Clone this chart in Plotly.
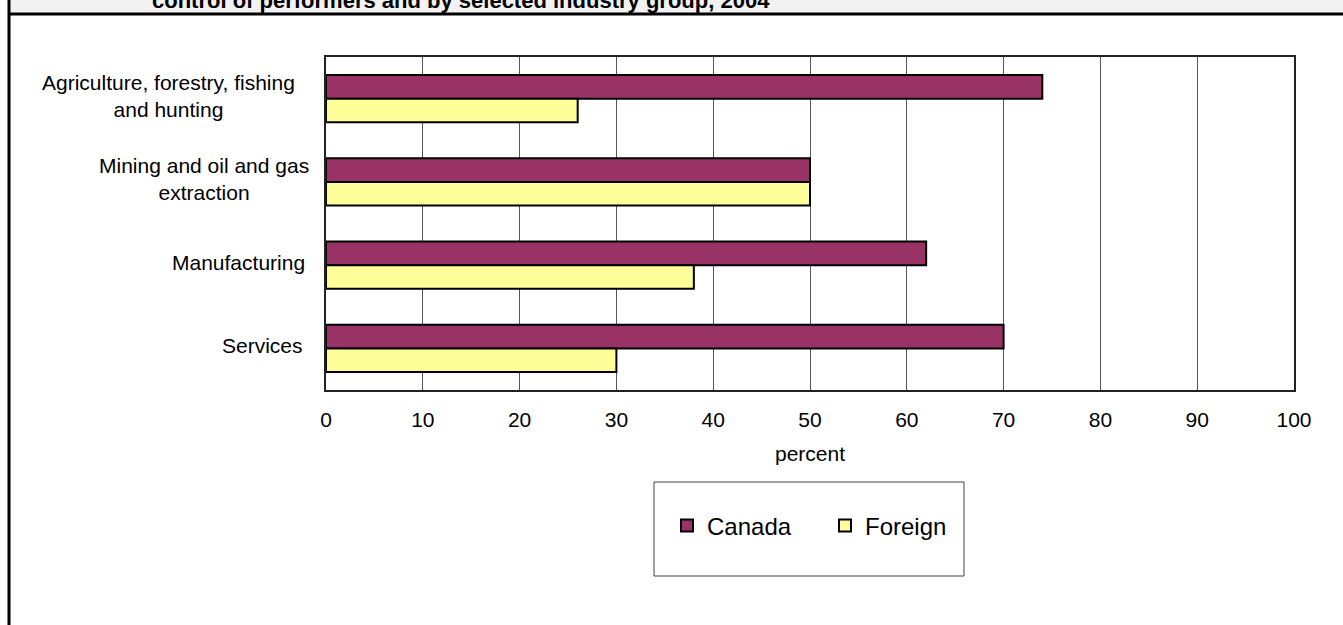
import plotly.graph_objects as go

# Share of R&D performed, by country of control and industry group
industries = [
    "Agriculture, forestry, fishing<br>and hunting",
    "Mining and oil and gas<br>extraction",
    "Manufacturing",
    "Services",
]
canada = [74, 50, 62, 70]
foreign = [26, 50, 38, 30]
x_ticks = [0, 10, 20, 30, 40, 50, 60, 70, 80, 90, 100]

W, H = 1343, 625
ML, MR, MT, MB = 326, 49, 57, 235
PW, PH = W - ML - MR, H - MT - MB


def px_x(px):
    return (px - ML) / PW


def px_y(py):
    return (H - MB - py) / PH


FONT = "Liberation Sans, Arial, sans-serif"

fig = go.Figure()
fig.add_trace(go.Bar(
    y=industries, x=canada, name="Canada", orientation="h",
    marker=dict(color="#993366", line=dict(color="#000000", width=2)),
))
fig.add_trace(go.Bar(
    y=industries, x=foreign, name="Foreign", orientation="h",
    marker=dict(color="#FFFF99", line=dict(color="#000000", width=2)),
))

# category labels: lines centred within each right-aligned block
label_right = [297, 311, 307, 305]
annotations = []
for name, right in zip(industries, label_right):
    annotations.append(dict(
        xref="paper", yref="y", x=px_x(right), y=name,
        xanchor="right", yanchor="middle", align="center", yshift=3,
        text=name, showarrow=False,
        font=dict(family=FONT, size=21, color="#000000"),
    ))

# title line running off the top edge of the page
annotations.append(dict(
    xref="paper", yref="paper", x=px_x(150), y=px_y(-14),
    xanchor="left", yanchor="top", align="left",
    text="<b>control of performers and by selected industry group, 2004</b>",
    showarrow=False,
    font=dict(family=FONT, size=22, color="#000000"),
))

shapes = [
    # grey header band and its rule
    dict(type="rect", xref="paper", yref="paper",
         x0=px_x(9), x1=px_x(W + 5), y0=px_y(13), y1=px_y(-5),
         fillcolor="#f2f2f2", line=dict(width=0), layer="below"),
    dict(type="line", xref="paper", yref="paper",
         x0=px_x(9), x1=px_x(W + 5), y0=px_y(14), y1=px_y(14),
         line=dict(color="#000000", width=3)),
    # left frame rule
    dict(type="line", xref="paper", yref="paper",
         x0=px_x(9), x1=px_x(9), y0=px_y(-5), y1=px_y(H + 5),
         line=dict(color="#000000", width=3)),
    # legend frame
    dict(type="rect", xref="paper", yref="paper",
         x0=px_x(654), x1=px_x(964), y0=px_y(482), y1=px_y(576),
         fillcolor="rgba(0,0,0,0)", line=dict(color="#404040", width=1)),
]

fig.update_layout(
    width=W, height=H,
    margin=dict(l=ML, r=MR, t=MT, b=MB, pad=0),
    paper_bgcolor="#ffffff", plot_bgcolor="#ffffff",
    barmode="group", bargap=0.435, bargroupgap=0,
    font=dict(family=FONT, size=21, color="#000000"),
    showlegend=True,
    legend=dict(
        orientation="h", x=px_x(825), y=px_y(526),
        xanchor="center", yanchor="middle",
        font=dict(family=FONT, size=24, color="#000000"),
        bgcolor="rgba(0,0,0,0)", borderwidth=0,
        entrywidth=113, entrywidthmode="pixels",
        traceorder="normal",
    ),
    xaxis=dict(
        range=[0, 100], tickvals=x_ticks, ticktext=[str(v) for v in x_ticks],
        showgrid=True, gridcolor="#555555", gridwidth=1,
        showline=True, linecolor="#222222", linewidth=2, mirror=True,
        ticks="", ticklabelstandoff=10, zeroline=False,
        tickfont=dict(family=FONT, size=21),
        title=dict(text="percent", standoff=16,
                   font=dict(family=FONT, size=21)),
        fixedrange=True,
    ),
    yaxis=dict(
        categoryorder="array", categoryarray=industries,
        range=[3.5, -0.5], showticklabels=False, showgrid=False,
        showline=True, linecolor="#222222", linewidth=2, mirror=True,
        ticks="", zeroline=False, fixedrange=True,
    ),
    annotations=annotations,
    shapes=shapes,
)

fig.write_html("out.html")
